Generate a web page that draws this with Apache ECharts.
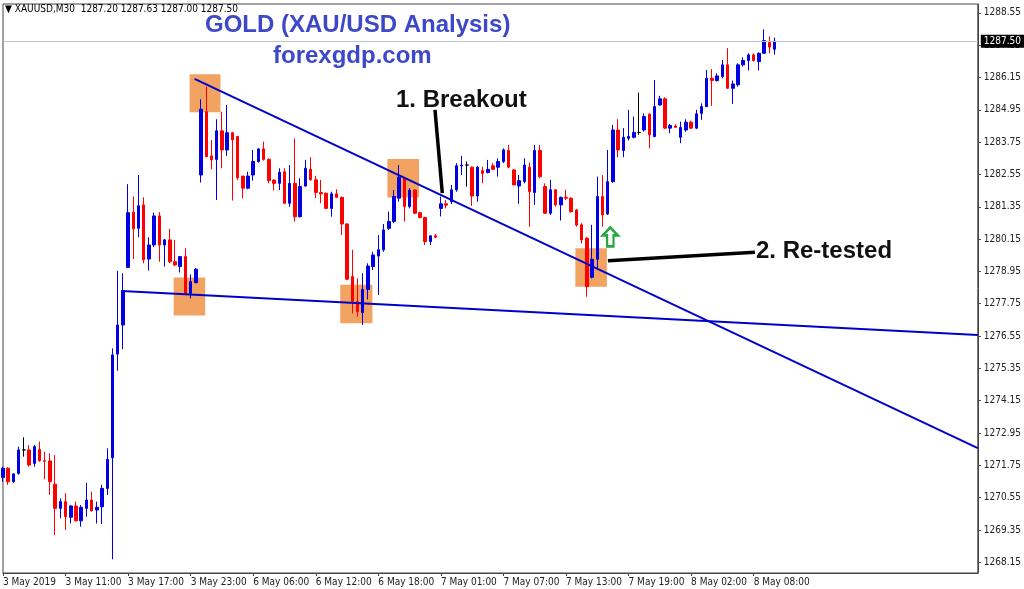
<!DOCTYPE html>
<html>
<head>
<meta charset="utf-8">
<script src="https://cdn.jsdelivr.net/npm/echarts@6/dist/echarts.min.js"></script>
<style>
html,body{margin:0;padding:0;background:#fff;}
#chart{width:1024px;height:589px;}
</style>
</head>
<body>
<div id="chart"></div>
<script>
// ---- DATA ----
// OHLC in ECharts order: [open, close, low, high]; XAUUSD M30 from 3 May 2019 05:00
const ohlc = [
[1271.30,1271.64,1271.14,1271.70],[1271.64,1271.14,1271.02,1271.68],[1271.14,1271.43,1271.10,1271.45],
[1271.45,1272.32,1271.40,1272.44],[1272.32,1272.32,1272.07,1272.79],[1272.32,1271.76,1271.70,1272.50],
[1271.82,1272.44,1271.70,1272.50],[1272.34,1271.92,1271.88,1272.63],[1271.92,1271.90,1271.23,1272.25],
[1271.91,1271.14,1270.65,1272.19],[1271.05,1270.15,1269.16,1272.13],[1270.15,1270.40,1269.78,1270.52],
[1270.40,1269.84,1269.35,1270.71],[1269.82,1270.24,1269.59,1270.27],[1270.24,1269.69,1269.66,1270.40],
[1269.69,1270.19,1269.47,1270.27],[1270.15,1270.46,1269.84,1271.10],[1270.46,1270.06,1270.03,1270.77],
[1270.09,1270.19,1269.59,1270.40],[1270.21,1270.89,1269.57,1271.02],[1270.89,1271.97,1270.65,1272.38],
[1272.03,1275.85,1268.26,1276.09],[1275.88,1276.96,1275.26,1278.97],[1276.96,1278.24,1276.06,1278.88],
[1279.10,1281.13,1279.10,1282.19],[1281.15,1280.53,1279.41,1281.73],[1280.55,1281.39,1280.22,1282.53],
[1281.42,1279.38,1279.25,1281.70],[1279.41,1279.93,1278.98,1280.22],[1279.93,1281.01,1279.85,1281.13],
[1281.01,1279.93,1279.31,1281.15],[1279.93,1280.12,1279.13,1280.16],[1280.12,1279.31,1279.25,1280.53],
[1279.31,1279.19,1279.15,1280.12],[1279.13,1279.50,1278.91,1279.52],[1279.50,1278.14,1278.08,1279.81],
[1278.14,1278.57,1277.95,1278.84],[1278.53,1279.03,1278.51,1279.07],
[1282.53,1284.97,1282.25,1285.34],[1284.88,1283.21,1283.19,1285.81],[1283.24,1283.09,1282.74,1283.83],
[1283.11,1284.17,1281.60,1284.60],[1284.17,1283.46,1282.78,1284.88],[1283.46,1284.10,1283.24,1285.13],
[1284.10,1283.83,1281.58,1284.13],[1283.96,1282.43,1282.34,1283.98],[1282.49,1282.04,1281.66,1282.49],
[1282.04,1282.49,1282.00,1282.65],[1282.53,1283.03,1282.32,1283.46],[1283.03,1283.50,1282.99,1283.52],
[1283.50,1283.11,1283.06,1283.77],[1283.11,1282.32,1282.22,1283.15],[1282.34,1282.22,1281.95,1282.37],
[1282.22,1282.63,1281.97,1282.78],[1282.65,1281.48,1281.45,1282.78],[1281.48,1282.22,1281.35,1282.90],
[1282.22,1280.98,1280.80,1283.89],[1280.98,1282.10,1280.96,1282.41],[1282.12,1282.78,1282.10,1283.09],
[1282.74,1282.35,1282.32,1283.19],[1282.35,1281.88,1281.67,1282.50],[1281.88,1281.83,1281.48,1282.35],
[1281.85,1281.29,1281.26,1281.88],[1281.29,1281.83,1280.98,1281.91],[1281.83,1281.70,1281.67,1282.00],
[1281.70,1280.71,1280.30,1281.73],[1280.71,1278.66,1278.63,1280.74],[1278.76,1277.83,1277.39,1279.75],
[1277.83,1277.46,1277.27,1278.69],[1277.42,1278.28,1276.96,1278.88],[1278.28,1279.15,1277.91,1279.25],
[1279.13,1279.56,1279.00,1279.68],[1279.52,1279.75,1278.07,1280.30],[1279.75,1280.49,1279.68,1280.71],
[1280.55,1280.80,1280.49,1281.17],[1280.80,1281.73,1280.74,1281.97],[1281.67,1282.45,1281.54,1282.90],
[1282.41,1281.36,1280.80,1282.41],[1281.36,1281.97,1281.29,1282.04],[1281.97,1281.11,1281.08,1282.00],
[1281.13,1280.95,1280.92,1281.17],[1280.95,1280.06,1279.93,1280.98],[1280.06,1280.27,1279.93,1280.30],
[1280.27,1280.22,1280.18,1280.34],
[1281.29,1281.46,1280.99,1281.73],[1281.46,1281.41,1281.29,1281.60],[1281.54,1281.98,1281.45,1282.16],
[1281.98,1282.87,1281.91,1282.97],[1282.87,1282.90,1282.53,1283.24],[1282.90,1282.90,1282.10,1283.03],
[1282.82,1281.75,1281.38,1282.84],[1281.75,1282.82,1281.54,1282.87],[1282.69,1282.59,1282.22,1282.84],
[1282.62,1282.74,1282.59,1283.09],[1282.87,1282.74,1282.72,1282.97],[1282.82,1283.03,1282.47,1283.15],
[1283.03,1283.46,1282.97,1283.52],[1283.44,1282.82,1282.78,1283.65],[1282.72,1282.16,1282.16,1282.74],
[1282.12,1282.32,1281.46,1282.53],[1282.29,1282.90,1282.22,1283.15],[1282.82,1281.91,1280.61,1282.99],
[1281.88,1283.44,1281.42,1283.65],[1283.44,1282.47,1282.41,1283.65],[1282.10,1281.11,1281.08,1282.22],
[1281.11,1281.98,1281.05,1282.35],[1281.98,1281.42,1281.36,1282.00],[1281.42,1281.70,1280.84,1281.73],
[1281.70,1281.67,1281.60,1281.98],[1281.67,1281.17,1281.13,1281.70],[1281.23,1280.67,1280.61,1281.26],
[1280.68,1280.12,1279.99,1280.74],[1280.18,1278.38,1278.01,1280.24],[1278.73,1279.40,1278.69,1280.68],
[1279.40,1281.73,1279.00,1282.47],[1281.73,1281.05,1280.61,1282.53],[1281.08,1282.28,1281.05,1283.46],
[1282.28,1284.20,1282.25,1284.39],[1284.20,1283.46,1283.19,1284.60],[1283.44,1283.93,1283.19,1284.27],
[1283.89,1283.96,1283.81,1284.95],[1283.93,1284.11,1283.89,1284.70],[1284.11,1284.11,1284.02,1285.59],
[1284.20,1284.70,1284.14,1284.82],[1284.79,1284.02,1283.52,1284.82],[1283.96,1285.07,1283.93,1286.06],
[1285.13,1285.36,1285.10,1285.47],[1285.36,1284.27,1284.23,1285.42],[1284.27,1284.37,1284.08,1284.43],
[1284.35,1284.30,1284.27,1284.41],[1283.93,1284.30,1283.71,1284.51],[1284.20,1284.49,1284.14,1284.60],
[1284.49,1284.27,1284.23,1284.55],[1284.27,1284.80,1284.23,1284.95],[1284.82,1285.07,1284.58,1285.19],
[1285.07,1286.12,1285.05,1286.43],[1286.12,1286.04,1285.10,1286.46],[1286.04,1286.21,1286.00,1286.31],
[1286.19,1286.62,1286.12,1286.80],[1286.62,1285.75,1285.73,1287.24],[1285.75,1285.91,1285.17,1286.04],
[1285.88,1286.62,1285.81,1286.68],[1286.62,1286.78,1286.56,1286.90],[1286.78,1286.99,1286.41,1287.05],
[1286.99,1286.78,1286.74,1287.05],[1286.74,1287.05,1286.41,1287.08],[1287.05,1287.52,1287.03,1287.94],
[1287.45,1287.28,1287.05,1287.67],[1287.20,1287.50,1287.00,1287.63]
];
const totalSlots = 188; // bars visible incl. empty space on the right
const xTickLabels = ['3 May 2019','3 May 11:00','3 May 17:00','3 May 23:00','6 May 06:00','6 May 12:00',
  '6 May 18:00','7 May 01:00','7 May 07:00','7 May 13:00','7 May 19:00','8 May 02:00','8 May 08:00'];
const yTickValues = [1288.55,1287.35,1286.15,1284.95,1283.75,1282.55,1281.35,1280.15,1278.95,1277.75,
  1276.55,1275.35,1274.15,1272.95,1271.75,1270.55,1269.35,1268.15];
const lastPrice = 1287.50;
// drawn annotations, in [bar index, price]
const supportLine = [[22.8,1278.22],[187,1276.59]];
const resistanceLine = [[36.75,1286.10],[187,1272.39]];
const breakoutPointer = [[82.87,1284.95],[84.27,1281.86]];
const retestPointer = [[116.04,1279.35],[144.25,1279.66]];
const boxes = [
  [[35.79,1286.27],[41.72,1284.86]],
  [[32.73,1278.72],[38.79,1277.31]],
  [[64.69,1278.45],[70.87,1277.02]],
  [[73.74,1283.12],[79.81,1281.69]],
  [[109.80,1279.81],[115.85,1278.38]]
];
const arrowPoint = [116.5,1280.23];

// categories: M30 bar times (skip daily break hour and weekend)
const months=['Jan','Feb','Mar','Apr','May','Jun','Jul','Aug','Sep','Oct','Nov','Dec'];
const categories=[];
{
  let t = Date.UTC(2019,4,3,5,0);
  for(let i=0;i<totalSlots;i++){
    const d=new Date(t);
    categories.push(d.getUTCDate()+' '+months[d.getUTCMonth()]+' '+String(d.getUTCHours()).padStart(2,'0')+':'+String(d.getUTCMinutes()).padStart(2,'0'));
    let n;
    do { t += 30*60000; n=new Date(t); } while(n.getUTCHours()===0 || n.getUTCDay()===0 || n.getUTCDay()===6);
  }
}

const smallFont = '"Liberation Sans Narrow","DejaVu Sans Condensed","Arial Narrow",sans-serif';
const chart = echarts.init(document.getElementById('chart'), null, {renderer:'canvas'});
const lineSeries = (data, color, width, z) => ({
  type:'line', xAxisIndex:1, data, symbol:'none', silent:true, animation:false, z,
  lineStyle:{color, width}
});
chart.setOption({
  animation:false,
  backgroundColor:'#ffffff',
  grid:{left:2, right:44, top:4, bottom:16, show:true, borderColor:'#444', borderWidth:1, backgroundColor:'transparent'},
  xAxis:[{
    type:'category', data:categories, boundaryGap:false,
    axisLine:{show:true, onZero:false, lineStyle:{color:'#444'}},
    axisTick:{show:true, length:3, interval:(i)=> i%12===0 && i<=144, lineStyle:{color:'#444'}},
    axisLabel:{interval:(i)=> i%12===0 && i<=144, formatter:(v,i)=> xTickLabels[i/12] || '', align:'left', margin:4,
      fontFamily:smallFont, fontSize:10, color:'#222'},
    splitLine:{show:false}
  },{
    type:'value', min:0, max:totalSlots-1, show:false,
    axisLine:{show:false, onZero:false}, axisTick:{show:false}, axisLabel:{show:false}, splitLine:{show:false}
  }],
  yAxis:{
    type:'value', position:'right', min:1267.75, max:1288.88, scale:true,
    axisLine:{show:true, onZero:false, lineStyle:{color:'#444'}},
    axisTick:{show:true, inside:false, length:3, customValues:yTickValues, lineStyle:{color:'#444'}},
    axisLabel:{customValues:yTickValues, formatter:(v)=>v.toFixed(2), margin:6, fontFamily:smallFont, fontSize:10, color:'#222'},
    splitLine:{show:false}
  },
  series:[
    {
      type:'candlestick', data:ohlc, barWidth:3, z:2,
      itemStyle:{color:'#0000e0', color0:'#ff0000', borderColor:'#0000e0', borderColor0:'#ff0000', borderColorDoji:'#000', borderWidth:1},
      markLine:{
        silent:true, symbol:'none', animation:false,
        lineStyle:{color:'#b8c4d2', width:1, type:'solid'},
        label:{show:true, position:'end', distance:3, formatter:lastPrice.toFixed(2), backgroundColor:'#000', color:'#fff',
          padding:[2,3,1,3], fontFamily:smallFont, fontSize:10},
        data:[{yAxis:lastPrice}]
      }
    },
    Object.assign(lineSeries([], '#000', 0, 1), {
      markArea:{silent:true, itemStyle:{color:'#f2a362', opacity:1},
        data: boxes.map(b=>[{coord:b[0]},{coord:b[1]}])}
    }),
    lineSeries(supportLine, '#0000cc', 2, 3),
    lineSeries(resistanceLine, '#0000cc', 2, 3),
    lineSeries(breakoutPointer, '#000', 3.5, 4),
    lineSeries(retestPointer, '#000', 3.5, 4),
    Object.assign(lineSeries([], '#000', 0, 5), {
      markPoint:{silent:true, animation:false,
        symbol:'path://M7,0 L14,8 L10,8 L10,19 L4,19 L4,8 L0,8 Z', symbolSize:[15,19],
        itemStyle:{color:'#ffffff', borderColor:'#28a745', borderWidth:2.5},
        label:{show:false},
        data:[{coord:arrowPoint}]}
    })
  ],
  graphic:[
    {type:'text', x:5, y:9, style:{text:'▼ XAUUSD,M30  1287.20 1287.63 1287.00 1287.50', font:'10px '+smallFont, fill:'#000', verticalAlign:'middle'}},
    {type:'text', x:205, y:25, style:{text:'GOLD (XAU/USD Analysis)', font:'bold 24px "Liberation Sans",Arial,sans-serif', fill:'#3c48c8', verticalAlign:'middle'}},
    {type:'text', x:273, y:56, style:{text:'forexgdp.com', font:'bold 24px "Liberation Sans",Arial,sans-serif', fill:'#3c48c8', verticalAlign:'middle'}},
    {type:'text', x:396, y:100, style:{text:'1. Breakout', font:'bold 24px "Liberation Sans",Arial,sans-serif', fill:'#111', verticalAlign:'middle'}},
    {type:'text', x:756, y:251, style:{text:'2. Re-tested', font:'bold 24px "Liberation Sans",Arial,sans-serif', fill:'#111', verticalAlign:'middle'}}
  ]
});
</script>
</body>
</html>
